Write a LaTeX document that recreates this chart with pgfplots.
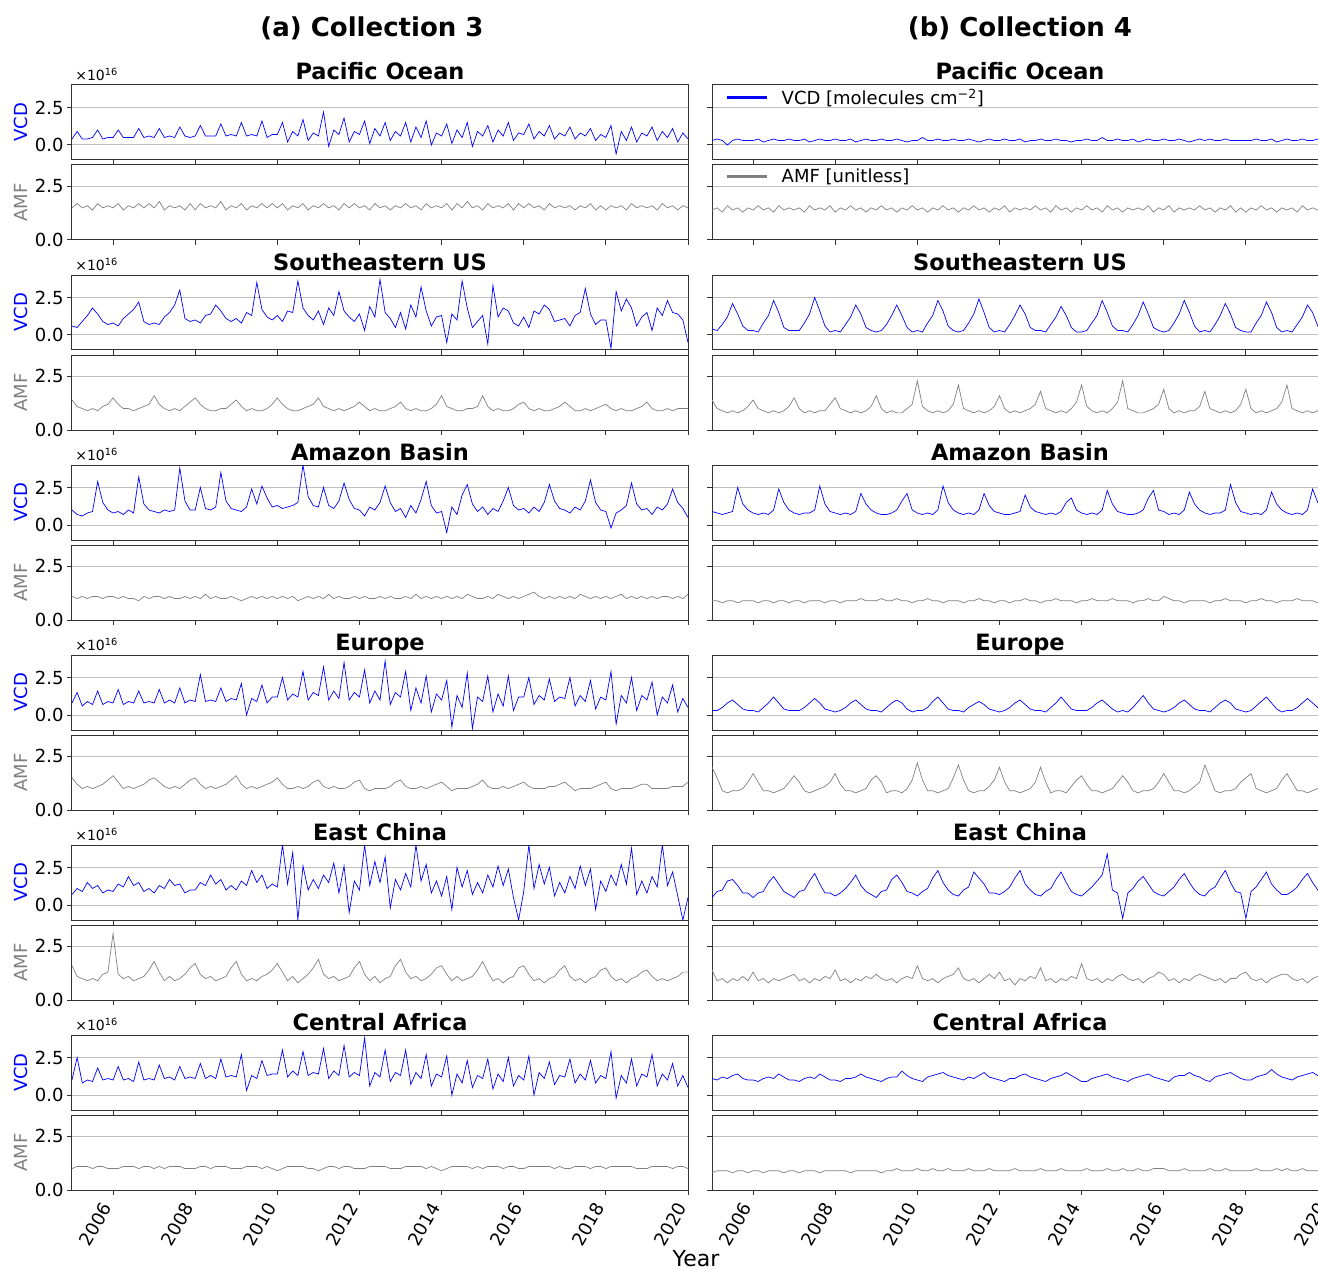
\documentclass[border=0pt]{standalone}
\usepackage{fontspec}
\setmainfont{DejaVu Sans}
\usepackage{pgfplots}
\pgfplotsset{compat=1.18}
\pgfplotsset{
  table/ts/.style={header=false,row sep=\\,x expr=2005+\coordindex*0.125,y index=0},
  panel/.style={scale only axis,width=616pt,height=75pt,anchor=north west,
    xmin=2005,xmax=2020,xtick={2006,2008,...,2020},xticklabels={},
    ytick={0,2.5},yticklabels={},
    tick align=outside,tick pos=left,major tick length=5pt,
    every tick/.style={black!80,line width=1pt},
    axis line style={black!80,line width=1pt},
    ymajorgrids,grid style={black!25,line width=1pt},
    tick label style={font=\fontsize{18}{18}\selectfont},
    every axis title/.style={at={(0.5,1)},anchor=base,yshift=5pt,font=\bfseries\fontsize{22.5}{24}\selectfont},
    every axis y label/.style={at={(axis description cs:-0.0828,0.5)},rotate=90,anchor=center,font=\fontsize{18}{18}\selectfont},
  },
  vcd/.style={panel,ymin=-1,ymax=4},
  amf/.style={panel,ymin=0,ymax=3.5},
  L/.style={yticklabels={0.0,2.5}},
  vL/.style={vcd,L,ylabel={VCD},ylabel style={blue},
     extra description/.code={\node[anchor=south west,inner sep=0pt,font=\fontsize{14}{14}\selectfont] at (axis description cs:0.005,1.05){×10\textsuperscript{16}};}},
  aL/.style={amf,L,ylabel={AMF},ylabel style={gray}},
  bot/.style={xticklabels={2006,2008,2010,2012,2014,2016,2018,2020},
     xticklabel style={yshift=-13pt,rotate=60,anchor=south east,inner sep=0pt}},
  vl/.style={blue,line width=0.7pt,forget plot},
  al/.style={gray,line width=0.7pt,forget plot},
  leg/.style={legend style={at={(0,1)},anchor=north west,draw=none,fill=none,font=\fontsize{18}{18}\selectfont,xshift=10pt,yshift=0pt},
    legend image code/.code={\draw[##1,line width=2.6pt](0pt,0pt)--(40pt,0pt);\path(53pt,0pt);}},
}
\begin{document}
\begin{tikzpicture}
\useasboundingbox (0,0) rectangle (1318pt,-1271pt);
\node[font=\bfseries\fontsize{26}{28}\selectfont] at (372pt,-28pt) {(a) Collection 3};
\node[font=\bfseries\fontsize{26}{28}\selectfont] at (1020pt,-28pt) {(b) Collection 4};
\node[font=\fontsize{22}{24}\selectfont] at (696pt,-1259pt) {Year};

% ---------------- Pacific Ocean ----------------
\begin{axis}[vL,at={(72pt,-85pt)},title={Pacific Ocean}]
\addplot[vl] table[ts]{
0.4\\0.9\\0.4\\0.4\\0.5\\1.0\\0.4\\0.5\\
0.5\\1.0\\0.5\\0.5\\0.5\\1.1\\0.5\\0.6\\
0.5\\1.1\\0.5\\0.6\\0.5\\1.2\\0.6\\0.5\\
0.6\\1.3\\0.6\\0.6\\0.6\\1.4\\0.6\\0.7\\
0.6\\1.5\\0.6\\0.7\\0.6\\1.6\\0.5\\0.7\\
0.7\\1.5\\0.2\\0.9\\0.6\\1.7\\0.3\\0.8\\
0.6\\2.2\\-0.1\\1.0\\0.7\\1.8\\0.2\\0.9\\
0.7\\1.6\\0.1\\1.1\\0.6\\1.5\\0.3\\0.9\\
0.6\\1.5\\0.2\\1.2\\0.5\\1.6\\0.0\\0.8\\
0.6\\1.4\\0.1\\1.0\\0.5\\1.5\\-0.1\\0.9\\
0.6\\1.3\\0.2\\1.0\\0.6\\1.5\\0.3\\0.8\\
0.7\\1.4\\0.4\\0.9\\0.6\\1.3\\0.4\\0.8\\
0.6\\1.2\\0.4\\0.8\\0.6\\1.1\\0.3\\0.7\\
0.5\\1.3\\-0.6\\0.9\\0.3\\1.2\\0.2\\0.8\\
0.6\\1.2\\0.3\\0.9\\0.5\\1.1\\0.2\\0.8\\
0.4\\};
\end{axis}
\begin{axis}[aL,at={(72pt,-165pt)}]
\addplot[al] table[ts]{
1.5\\1.7\\1.5\\1.6\\1.4\\1.7\\1.5\\1.6\\
1.5\\1.7\\1.4\\1.6\\1.5\\1.7\\1.5\\1.7\\
1.5\\1.8\\1.4\\1.6\\1.5\\1.6\\1.4\\1.7\\
1.4\\1.7\\1.5\\1.6\\1.5\\1.8\\1.4\\1.6\\
1.5\\1.7\\1.4\\1.6\\1.5\\1.7\\1.5\\1.7\\
1.5\\1.7\\1.4\\1.6\\1.5\\1.7\\1.4\\1.6\\
1.5\\1.7\\1.5\\1.6\\1.4\\1.7\\1.5\\1.7\\
1.5\\1.6\\1.4\\1.7\\1.5\\1.6\\1.4\\1.6\\
1.5\\1.7\\1.5\\1.6\\1.4\\1.7\\1.5\\1.6\\
1.5\\1.7\\1.4\\1.7\\1.5\\1.8\\1.5\\1.6\\
1.4\\1.7\\1.5\\1.6\\1.5\\1.7\\1.4\\1.7\\
1.5\\1.7\\1.5\\1.6\\1.4\\1.7\\1.5\\1.6\\
1.5\\1.6\\1.4\\1.6\\1.5\\1.7\\1.4\\1.6\\
1.4\\1.6\\1.5\\1.6\\1.4\\1.7\\1.5\\1.6\\
1.5\\1.6\\1.4\\1.7\\1.5\\1.6\\1.4\\1.6\\
1.5\\};
\end{axis}
\begin{axis}[vcd,leg,at={(712pt,-85pt)},title={Pacific Ocean}]
\addlegendimage{blue}
\addlegendentry{VCD [molecules cm\textsuperscript{−2}]}
\addplot[vl] table[ts]{
0.3\\0.4\\0.3\\0.0\\0.3\\0.4\\0.3\\0.3\\
0.3\\0.4\\0.2\\0.3\\0.4\\0.3\\0.3\\0.4\\
0.3\\0.3\\0.4\\0.2\\0.3\\0.4\\0.3\\0.3\\
0.4\\0.3\\0.3\\0.4\\0.2\\0.3\\0.4\\0.3\\
0.3\\0.4\\0.3\\0.3\\0.4\\0.3\\0.2\\0.3\\
0.3\\0.5\\0.3\\0.3\\0.4\\0.3\\0.3\\0.4\\
0.3\\0.3\\0.4\\0.3\\0.2\\0.3\\0.4\\0.3\\
0.3\\0.4\\0.3\\0.3\\0.4\\0.2\\0.3\\0.3\\
0.4\\0.3\\0.3\\0.4\\0.3\\0.3\\0.2\\0.3\\
0.3\\0.4\\0.3\\0.3\\0.5\\0.3\\0.3\\0.4\\
0.3\\0.3\\0.4\\0.2\\0.3\\0.4\\0.3\\0.3\\
0.4\\0.3\\0.3\\0.4\\0.3\\0.2\\0.3\\0.4\\
0.3\\0.4\\0.3\\0.3\\0.4\\0.3\\0.3\\0.3\\
0.3\\0.3\\0.4\\0.3\\0.3\\0.4\\0.2\\0.3\\
0.4\\0.3\\0.3\\0.4\\0.3\\0.3\\0.4\\0.3\\
0.3\\};
\end{axis}
\begin{axis}[amf,leg,at={(712pt,-165pt)}]
\addlegendimage{gray}
\addlegendentry{AMF [unitless]}
\addplot[al] table[ts]{
1.4\\1.5\\1.3\\1.6\\1.4\\1.5\\1.3\\1.5\\
1.4\\1.6\\1.4\\1.5\\1.3\\1.6\\1.4\\1.5\\
1.4\\1.5\\1.3\\1.6\\1.4\\1.5\\1.4\\1.6\\
1.3\\1.5\\1.4\\1.6\\1.4\\1.5\\1.3\\1.5\\
1.4\\1.6\\1.4\\1.5\\1.3\\1.5\\1.4\\1.6\\
1.4\\1.5\\1.3\\1.5\\1.4\\1.6\\1.4\\1.5\\
1.3\\1.5\\1.4\\1.6\\1.4\\1.5\\1.3\\1.5\\
1.4\\1.6\\1.3\\1.5\\1.4\\1.5\\1.4\\1.6\\
1.4\\1.5\\1.3\\1.6\\1.4\\1.5\\1.3\\1.5\\
1.4\\1.6\\1.4\\1.5\\1.3\\1.6\\1.4\\1.5\\
1.3\\1.5\\1.4\\1.5\\1.4\\1.6\\1.3\\1.5\\
1.4\\1.6\\1.3\\1.5\\1.4\\1.5\\1.4\\1.6\\
1.4\\1.5\\1.3\\1.5\\1.4\\1.6\\1.3\\1.5\\
1.3\\1.5\\1.4\\1.6\\1.4\\1.5\\1.3\\1.5\\
1.4\\1.5\\1.3\\1.6\\1.4\\1.5\\1.4\\1.5\\
1.4\\};
\end{axis}

% ---------------- Southeastern US ----------------
\begin{axis}[vL,at={(72pt,-275pt)},title={Southeastern US}]
\addplot[vl] table[ts]{
0.6\\0.5\\0.9\\1.3\\1.8\\1.4\\0.9\\0.7\\
0.8\\0.6\\1.1\\1.4\\1.7\\2.2\\0.9\\0.7\\
0.8\\0.7\\1.2\\1.5\\2.0\\3.0\\1.1\\0.9\\
1.0\\0.8\\1.3\\1.4\\2.0\\1.6\\1.1\\0.9\\
1.1\\0.8\\1.5\\1.3\\3.5\\1.7\\1.2\\1.0\\
1.3\\0.9\\1.6\\1.5\\3.6\\1.8\\1.3\\1.0\\
1.6\\0.7\\1.8\\1.3\\2.9\\1.6\\1.2\\0.9\\
1.4\\0.3\\1.9\\1.2\\3.7\\1.5\\1.1\\0.5\\
1.5\\0.4\\2.0\\1.2\\3.2\\1.6\\0.6\\1.2\\
1.3\\-0.5\\1.4\\1.0\\3.6\\1.8\\0.5\\0.9\\
1.3\\-0.6\\3.3\\1.2\\1.8\\1.6\\0.8\\0.6\\
1.2\\0.5\\1.6\\1.4\\2.0\\1.7\\0.9\\1.0\\
1.1\\0.6\\1.3\\1.5\\3.1\\1.4\\0.7\\1.0\\
1.0\\-0.9\\2.9\\1.6\\2.4\\1.8\\0.6\\1.2\\
1.5\\0.3\\1.8\\1.3\\2.3\\1.5\\1.4\\1.0\\
-0.5\\};
\end{axis}
\begin{axis}[aL,at={(72pt,-355pt)}]
\addplot[al] table[ts]{
1.4\\1.1\\1.0\\0.9\\1.0\\0.9\\1.1\\1.2\\
1.5\\1.2\\1.0\\1.0\\0.9\\1.0\\1.1\\1.2\\
1.6\\1.2\\1.0\\0.9\\1.0\\0.9\\1.1\\1.3\\
1.5\\1.2\\1.0\\0.9\\0.9\\1.0\\1.0\\1.2\\
1.4\\1.1\\0.9\\1.0\\0.9\\0.9\\1.0\\1.2\\
1.5\\1.2\\1.0\\0.9\\0.9\\1.0\\1.1\\1.2\\
1.5\\1.1\\1.0\\0.9\\1.0\\0.9\\1.0\\1.1\\
1.3\\1.1\\0.9\\1.0\\0.9\\0.9\\1.0\\1.1\\
1.3\\1.0\\0.9\\1.0\\0.9\\0.9\\1.0\\1.2\\
1.6\\1.1\\1.0\\0.9\\0.9\\1.0\\1.0\\1.1\\
1.6\\1.1\\0.9\\1.0\\0.9\\0.9\\1.0\\1.2\\
1.3\\1.0\\0.9\\1.0\\0.9\\0.9\\1.0\\1.1\\
1.3\\1.1\\0.9\\0.9\\1.0\\0.9\\1.0\\1.1\\
1.2\\1.0\\0.9\\1.0\\0.9\\0.9\\1.0\\1.1\\
1.3\\1.0\\0.9\\0.9\\1.0\\0.9\\1.0\\1.0\\
1.0\\};
\end{axis}
\begin{axis}[vcd,at={(712pt,-275pt)},title={Southeastern US}]
\addplot[vl] table[ts]{
0.4\\0.3\\0.7\\1.2\\2.1\\1.4\\0.6\\0.3\\
0.3\\0.2\\0.8\\1.3\\2.3\\1.5\\0.5\\0.3\\
0.3\\0.3\\0.8\\1.4\\2.5\\1.6\\0.6\\0.2\\
0.3\\0.2\\0.7\\1.2\\2.0\\1.4\\0.5\\0.3\\
0.2\\0.3\\0.7\\1.3\\2.0\\1.3\\0.5\\0.2\\
0.3\\0.2\\0.8\\1.3\\2.3\\1.6\\0.6\\0.3\\
0.2\\0.3\\0.8\\1.4\\2.4\\1.5\\0.5\\0.2\\
0.3\\0.2\\0.7\\1.3\\2.0\\1.4\\0.5\\0.3\\
0.3\\0.2\\0.7\\1.2\\1.9\\1.3\\0.5\\0.2\\
0.2\\0.3\\0.8\\1.3\\2.3\\1.5\\0.6\\0.3\\
0.3\\0.2\\0.7\\1.3\\2.2\\1.4\\0.5\\0.3\\
0.2\\0.3\\0.8\\1.4\\2.3\\1.5\\0.6\\0.2\\
0.3\\0.2\\0.7\\1.3\\2.1\\1.4\\0.5\\0.3\\
0.2\\0.2\\0.8\\1.3\\2.2\\1.5\\0.5\\0.2\\
0.3\\0.2\\0.7\\1.2\\2.0\\1.5\\0.6\\0.3\\
0.3\\};
\end{axis}
\begin{axis}[amf,at={(712pt,-355pt)}]
\addplot[al] table[ts]{
1.4\\1.0\\0.9\\0.8\\0.9\\0.8\\0.9\\1.1\\
1.4\\1.0\\0.9\\0.8\\0.9\\0.8\\0.9\\1.1\\
1.5\\1.0\\0.8\\0.9\\0.8\\0.9\\0.9\\1.2\\
1.5\\1.0\\0.9\\0.8\\0.9\\0.8\\0.9\\1.1\\
1.6\\1.0\\0.8\\0.9\\0.8\\0.8\\1.0\\1.2\\
2.3\\1.1\\0.9\\0.8\\0.9\\0.8\\0.9\\1.2\\
2.1\\1.0\\0.9\\0.8\\0.9\\0.8\\0.9\\1.1\\
1.6\\1.0\\0.8\\0.9\\0.8\\0.9\\1.0\\1.2\\
1.8\\1.0\\0.9\\0.8\\0.9\\0.8\\1.0\\1.3\\
2.1\\1.1\\0.9\\0.8\\0.9\\0.8\\1.0\\1.3\\
2.3\\1.0\\0.9\\0.8\\0.8\\0.9\\1.0\\1.2\\
1.9\\1.0\\0.8\\0.9\\0.8\\0.9\\0.9\\1.1\\
1.8\\1.0\\0.9\\0.8\\0.9\\0.8\\0.9\\1.2\\
1.9\\1.0\\0.8\\0.9\\0.8\\0.9\\1.0\\1.3\\
2.1\\1.0\\0.9\\0.8\\0.9\\0.8\\0.9\\1.0\\
1.0\\};
\end{axis}

% ---------------- Amazon Basin ----------------
\begin{axis}[vL,at={(72pt,-465pt)},title={Amazon Basin}]
\addplot[vl] table[ts]{
1.0\\0.7\\0.6\\0.8\\0.9\\2.9\\1.5\\1.0\\
0.8\\0.9\\0.7\\1.0\\0.8\\3.2\\1.4\\1.0\\
0.9\\0.8\\1.0\\0.9\\1.0\\3.8\\1.6\\1.0\\
1.0\\2.5\\1.1\\1.0\\1.2\\3.5\\1.6\\1.1\\
1.0\\0.9\\1.2\\2.4\\1.4\\2.6\\1.8\\1.2\\
1.3\\1.1\\1.2\\1.3\\1.5\\4.0\\1.9\\1.3\\
1.2\\2.5\\1.3\\1.1\\1.6\\2.8\\1.7\\1.1\\
1.0\\0.6\\1.2\\1.0\\1.5\\2.6\\1.5\\0.9\\
1.1\\0.5\\1.3\\0.8\\1.7\\2.9\\1.3\\0.8\\
0.9\\-0.5\\1.2\\0.7\\2.0\\2.7\\1.4\\0.9\\
1.2\\0.7\\1.1\\0.9\\1.6\\2.5\\1.3\\1.0\\
1.1\\0.8\\1.2\\0.9\\1.5\\2.7\\1.6\\1.1\\
1.0\\0.8\\1.2\\1.0\\1.6\\3.0\\1.5\\1.0\\
0.9\\-0.2\\0.8\\1.0\\1.3\\2.8\\1.4\\1.0\\
1.1\\0.7\\1.2\\1.0\\1.4\\2.4\\1.5\\1.1\\
0.5\\};
\end{axis}
\begin{axis}[aL,at={(72pt,-545pt)}]
\addplot[al] table[ts]{
1.1\\1.0\\1.1\\1.0\\1.1\\1.1\\1.0\\1.1\\
1.1\\1.0\\1.1\\1.0\\1.0\\0.9\\1.1\\1.0\\
1.1\\1.1\\1.0\\1.1\\1.0\\1.0\\1.1\\1.0\\
1.1\\1.0\\1.2\\1.0\\1.1\\1.0\\1.0\\1.1\\
1.0\\0.9\\1.0\\1.1\\1.0\\1.1\\1.0\\1.1\\
1.0\\1.1\\1.0\\1.1\\0.9\\1.0\\1.1\\1.0\\
1.1\\1.0\\1.2\\1.0\\1.1\\1.0\\1.0\\1.1\\
1.0\\1.1\\1.0\\1.0\\1.1\\1.0\\1.1\\1.0\\
1.0\\1.1\\1.0\\1.2\\1.0\\1.1\\1.0\\1.1\\
1.0\\1.1\\1.0\\1.1\\1.0\\1.2\\1.1\\1.0\\
1.0\\1.1\\1.0\\1.2\\1.1\\1.0\\1.1\\1.0\\
1.1\\1.2\\1.3\\1.1\\1.0\\1.1\\1.0\\1.1\\
1.0\\1.1\\1.0\\1.2\\1.1\\1.0\\1.1\\1.0\\
1.1\\1.0\\1.1\\1.2\\1.0\\1.1\\1.0\\1.1\\
1.0\\1.1\\1.0\\1.1\\1.1\\1.0\\1.1\\1.0\\
1.2\\};
\end{axis}
\begin{axis}[vcd,at={(712pt,-465pt)},title={Amazon Basin}]
\addplot[vl] table[ts]{
0.9\\0.8\\0.7\\0.8\\0.9\\2.5\\1.4\\1.0\\
0.8\\0.7\\0.8\\0.7\\1.0\\2.4\\1.5\\1.0\\
0.8\\0.7\\0.8\\0.8\\1.0\\2.6\\1.4\\0.9\\
0.8\\0.7\\0.8\\0.7\\0.9\\2.1\\1.4\\1.0\\
0.8\\0.7\\0.7\\0.8\\1.0\\1.6\\2.1\\1.0\\
0.8\\0.7\\0.8\\0.7\\1.0\\2.6\\1.5\\1.0\\
0.8\\0.7\\0.8\\0.7\\1.0\\2.1\\1.3\\0.9\\
0.8\\0.7\\0.7\\0.8\\0.9\\2.0\\1.2\\0.9\\
0.8\\0.7\\0.8\\0.7\\0.9\\1.5\\1.8\\1.0\\
0.8\\0.7\\0.8\\0.7\\1.0\\2.3\\1.4\\0.9\\
0.8\\0.7\\0.7\\0.8\\1.0\\1.8\\2.3\\1.0\\
0.9\\0.7\\0.8\\0.7\\1.0\\2.2\\1.4\\1.0\\
0.8\\0.7\\0.8\\0.8\\1.0\\2.7\\1.5\\0.9\\
0.8\\0.7\\0.8\\0.7\\1.0\\2.2\\1.4\\1.0\\
0.8\\0.7\\0.8\\0.7\\1.0\\2.4\\1.5\\1.0\\
0.9\\};
\end{axis}
\begin{axis}[amf,at={(712pt,-545pt)}]
\addplot[al] table[ts]{
0.9\\0.9\\0.8\\0.9\\0.9\\0.8\\0.9\\0.9\\
0.9\\0.8\\0.9\\0.9\\0.8\\0.9\\0.9\\0.8\\
0.9\\0.9\\0.8\\0.9\\0.9\\0.9\\0.8\\0.9\\
0.9\\0.8\\0.9\\0.9\\0.9\\1.0\\0.9\\0.9\\
0.9\\1.0\\0.9\\0.9\\1.0\\0.9\\0.9\\0.8\\
0.9\\0.9\\1.0\\0.9\\0.9\\0.8\\0.9\\0.9\\
0.9\\0.8\\0.9\\0.9\\1.0\\0.9\\0.9\\0.8\\
0.9\\0.9\\0.8\\0.9\\0.9\\1.0\\0.9\\0.9\\
0.8\\0.9\\0.9\\1.0\\0.9\\0.9\\0.9\\0.8\\
0.9\\0.9\\1.0\\0.9\\0.9\\0.9\\1.0\\0.9\\
0.9\\0.9\\0.8\\0.9\\0.9\\1.0\\0.9\\0.9\\
1.1\\1.0\\0.9\\0.9\\0.8\\0.9\\0.9\\0.9\\
0.9\\0.8\\0.9\\0.9\\1.0\\0.9\\0.9\\0.9\\
0.8\\0.9\\0.9\\1.0\\0.9\\0.9\\0.8\\0.9\\
0.9\\0.9\\1.0\\0.9\\0.9\\0.9\\0.8\\0.9\\
0.9\\};
\end{axis}

% ---------------- Europe ----------------
\begin{axis}[vL,at={(72pt,-655pt)},title={Europe}]
\addplot[vl] table[ts]{
0.8\\1.5\\0.6\\0.9\\0.7\\1.6\\0.7\\0.9\\
0.8\\1.7\\0.7\\0.9\\0.8\\1.6\\0.8\\0.9\\
0.8\\1.7\\0.8\\1.0\\0.8\\1.8\\0.8\\1.0\\
0.9\\2.7\\0.9\\1.0\\0.9\\1.8\\0.9\\1.1\\
1.0\\2.1\\0.0\\1.1\\0.9\\2.0\\0.8\\1.2\\
1.2\\2.5\\1.0\\1.4\\1.2\\2.9\\1.0\\1.5\\
1.3\\3.2\\1.0\\1.6\\1.1\\3.5\\1.0\\1.5\\
1.2\\3.0\\0.8\\1.6\\1.0\\3.6\\0.7\\1.5\\
1.2\\2.9\\0.3\\1.8\\0.8\\2.6\\0.2\\1.4\\
1.0\\2.3\\-0.8\\1.3\\0.5\\2.8\\-0.9\\1.2\\
0.9\\2.6\\0.2\\1.4\\0.6\\2.6\\0.3\\1.2\\
1.2\\2.5\\0.7\\1.3\\1.0\\2.4\\0.9\\1.2\\
1.1\\2.5\\0.6\\1.3\\0.9\\2.3\\0.4\\1.2\\
1.0\\2.9\\-0.6\\1.3\\0.8\\2.5\\0.3\\1.3\\
1.0\\2.2\\0.0\\1.2\\0.8\\2.0\\0.2\\1.1\\
0.5\\};
\end{axis}
\begin{axis}[aL,at={(72pt,-735pt)}]
\addplot[al] table[ts]{
1.5\\1.2\\1.0\\1.1\\1.0\\1.1\\1.2\\1.4\\
1.6\\1.3\\1.0\\1.1\\1.0\\1.1\\1.2\\1.4\\
1.5\\1.3\\1.1\\1.0\\1.1\\1.0\\1.2\\1.4\\
1.5\\1.2\\1.0\\1.1\\1.0\\1.1\\1.2\\1.4\\
1.6\\1.2\\1.0\\1.1\\1.0\\1.1\\1.2\\1.3\\
1.5\\1.2\\1.0\\1.0\\1.1\\1.0\\1.1\\1.3\\
1.4\\1.1\\1.0\\1.1\\1.0\\1.0\\1.1\\1.3\\
1.4\\1.0\\0.9\\1.0\\1.0\\1.0\\1.1\\1.3\\
1.4\\1.1\\1.0\\1.0\\1.1\\1.0\\1.1\\1.2\\
1.3\\1.1\\0.9\\1.0\\1.0\\1.0\\1.1\\1.2\\
1.4\\1.1\\1.0\\1.0\\1.1\\1.0\\1.1\\1.2\\
1.3\\1.1\\1.0\\1.0\\1.0\\1.1\\1.1\\1.2\\
1.3\\1.1\\0.9\\1.0\\1.0\\1.0\\1.1\\1.2\\
1.3\\1.0\\0.9\\1.0\\1.0\\1.0\\1.1\\1.2\\
1.2\\1.0\\1.0\\1.0\\1.0\\1.1\\1.1\\1.1\\
1.3\\};
\end{axis}
\begin{axis}[vcd,at={(712pt,-655pt)},title={Europe}]
\addplot[vl] table[ts]{
0.3\\0.3\\0.5\\0.8\\1.0\\0.7\\0.4\\0.3\\
0.3\\0.2\\0.5\\0.8\\1.2\\0.8\\0.4\\0.3\\
0.3\\0.3\\0.5\\0.8\\1.1\\0.8\\0.4\\0.3\\
0.2\\0.3\\0.5\\0.8\\1.0\\0.7\\0.4\\0.3\\
0.3\\0.2\\0.5\\0.8\\1.0\\0.8\\0.4\\0.2\\
0.3\\0.3\\0.5\\0.9\\1.2\\0.8\\0.4\\0.3\\
0.3\\0.2\\0.5\\0.7\\0.9\\0.7\\0.4\\0.3\\
0.2\\0.3\\0.5\\0.8\\1.0\\0.7\\0.4\\0.3\\
0.3\\0.2\\0.5\\0.8\\1.2\\0.8\\0.4\\0.3\\
0.3\\0.3\\0.5\\0.8\\1.0\\0.7\\0.4\\0.2\\
0.3\\0.2\\0.5\\0.9\\1.3\\0.8\\0.4\\0.3\\
0.2\\0.3\\0.5\\0.8\\1.0\\0.7\\0.4\\0.3\\
0.3\\0.2\\0.5\\0.8\\1.0\\0.8\\0.4\\0.3\\
0.2\\0.3\\0.6\\0.9\\1.2\\0.8\\0.4\\0.2\\
0.3\\0.3\\0.5\\0.8\\1.1\\0.8\\0.5\\0.4\\
0.9\\};
\end{axis}
\begin{axis}[amf,at={(712pt,-735pt)}]
\addplot[al] table[ts]{
2.0\\1.5\\0.9\\0.8\\0.9\\0.9\\1.0\\1.3\\
1.7\\1.3\\0.9\\0.9\\0.8\\0.9\\1.0\\1.3\\
1.6\\1.3\\0.9\\0.8\\0.9\\1.0\\1.1\\1.3\\
1.7\\1.2\\0.9\\0.9\\0.8\\0.9\\1.0\\1.4\\
1.6\\1.3\\0.8\\0.9\\0.9\\0.8\\1.0\\1.4\\
2.2\\1.4\\0.9\\0.9\\0.8\\0.9\\1.0\\1.5\\
2.1\\1.4\\0.9\\0.8\\0.9\\0.9\\1.1\\1.4\\
2.0\\1.3\\0.9\\0.9\\0.8\\0.9\\1.0\\1.3\\
2.0\\1.3\\0.8\\0.9\\0.9\\0.8\\1.1\\1.4\\
1.6\\1.2\\0.9\\0.9\\0.8\\0.9\\1.0\\1.3\\
1.6\\1.3\\0.9\\0.8\\0.9\\0.9\\1.0\\1.3\\
1.7\\1.3\\0.9\\0.9\\0.8\\0.9\\1.1\\1.3\\
2.1\\1.5\\0.9\\0.8\\0.9\\0.9\\1.0\\1.3\\
1.5\\1.7\\1.0\\0.9\\0.8\\0.9\\1.0\\1.4\\
1.7\\1.3\\0.9\\0.9\\0.8\\0.9\\1.0\\1.3\\
1.5\\};
\end{axis}

% ---------------- East China ----------------
\begin{axis}[vL,at={(72pt,-845pt)},title={East China}]
\addplot[vl] table[ts]{
0.7\\1.1\\0.9\\1.5\\1.1\\1.3\\0.8\\1.0\\
0.9\\1.4\\1.2\\1.9\\1.3\\1.5\\0.9\\1.1\\
0.8\\1.3\\1.1\\1.7\\1.3\\1.4\\0.8\\1.0\\
1.0\\1.5\\1.3\\2.0\\1.4\\1.7\\1.0\\1.3\\
1.0\\1.6\\1.3\\2.3\\1.5\\2.0\\1.1\\1.4\\
1.2\\4.0\\1.4\\3.5\\-1.0\\2.6\\1.0\\1.7\\
1.1\\2.0\\1.5\\2.8\\0.8\\2.6\\-0.5\\1.6\\
1.0\\4.0\\1.3\\2.9\\1.5\\3.2\\-0.2\\1.7\\
1.0\\2.1\\1.2\\4.0\\1.6\\2.7\\0.8\\1.6\\
0.6\\1.9\\-0.3\\2.5\\1.2\\2.3\\0.7\\1.5\\
0.8\\2.0\\1.2\\2.6\\1.3\\2.4\\0.5\\-1.0\\
0.9\\4.0\\1.1\\2.7\\1.4\\2.5\\0.6\\1.5\\
0.8\\1.9\\1.1\\2.6\\1.3\\2.4\\-0.3\\1.6\\
0.9\\2.0\\1.3\\2.7\\1.4\\3.8\\0.7\\1.6\\
0.8\\1.9\\1.2\\4.0\\1.3\\2.2\\0.6\\-1.0\\
0.5\\};
\end{axis}
\begin{axis}[aL,at={(72pt,-925pt)}]
\addplot[al] table[ts]{
1.6\\1.1\\1.0\\0.9\\1.0\\0.9\\1.2\\1.3\\
3.1\\1.2\\1.0\\1.1\\0.9\\1.0\\1.1\\1.4\\
1.8\\1.3\\0.9\\1.1\\0.9\\1.0\\1.2\\1.5\\
1.7\\1.2\\1.0\\1.1\\0.9\\1.0\\1.1\\1.5\\
1.8\\1.2\\0.9\\1.0\\0.9\\1.1\\1.2\\1.4\\
1.7\\1.3\\0.9\\1.1\\0.8\\1.0\\1.2\\1.5\\
1.9\\1.2\\1.0\\1.1\\0.9\\1.0\\1.1\\1.5\\
1.8\\1.2\\0.9\\1.1\\0.8\\1.0\\1.1\\1.6\\
1.9\\1.3\\1.0\\1.1\\0.9\\1.0\\1.2\\1.5\\
1.6\\1.2\\0.9\\1.1\\0.9\\1.0\\1.1\\1.4\\
1.8\\1.3\\0.9\\1.0\\0.8\\1.0\\1.1\\1.5\\
1.6\\1.2\\0.9\\1.0\\0.8\\1.0\\1.1\\1.4\\
1.6\\1.1\\0.9\\1.0\\0.8\\1.0\\1.1\\1.4\\
1.5\\1.1\\0.9\\1.0\\0.8\\1.0\\1.1\\1.3\\
1.4\\1.1\\0.9\\1.0\\0.9\\1.0\\1.1\\1.3\\
1.3\\};
\end{axis}
\begin{axis}[vcd,at={(712pt,-845pt)},title={East China}]
\addplot[vl] table[ts]{
0.5\\0.9\\1.0\\1.6\\1.7\\1.3\\0.8\\0.8\\
0.5\\0.8\\0.9\\1.5\\1.9\\1.4\\0.9\\0.7\\
0.5\\0.9\\1.0\\1.6\\2.1\\1.4\\0.8\\0.8\\
0.6\\0.8\\1.1\\1.5\\2.0\\1.3\\0.9\\0.7\\
0.5\\0.9\\1.0\\1.7\\2.0\\1.5\\0.9\\0.8\\
0.6\\0.9\\1.1\\1.8\\2.3\\1.5\\1.0\\0.7\\
0.6\\1.0\\1.2\\2.2\\1.8\\1.4\\0.8\\0.8\\
0.7\\0.9\\1.2\\1.8\\2.3\\1.4\\1.0\\0.7\\
0.6\\0.9\\1.1\\1.7\\2.2\\1.5\\0.9\\0.7\\
0.6\\0.9\\1.2\\1.6\\2.0\\3.4\\1.0\\0.8\\
-0.9\\0.8\\1.1\\1.6\\1.9\\1.4\\0.9\\0.7\\
0.6\\0.9\\1.2\\1.7\\2.1\\1.5\\1.0\\0.7\\
0.6\\1.0\\1.2\\1.8\\2.3\\1.5\\0.9\\0.8\\
-0.9\\0.9\\1.2\\1.7\\2.2\\1.4\\1.0\\0.7\\
0.7\\0.9\\1.2\\1.7\\2.1\\1.5\\1.0\\0.8\\
0.8\\};
\end{axis}
\begin{axis}[amf,at={(712pt,-925pt)}]
\addplot[al] table[ts]{
1.4\\0.9\\1.0\\0.8\\1.0\\0.9\\1.1\\0.9\\
1.3\\0.9\\1.0\\0.8\\1.0\\0.9\\1.0\\1.1\\
1.2\\0.9\\1.0\\0.8\\1.0\\0.9\\1.1\\1.0\\
1.4\\0.9\\1.0\\0.8\\1.0\\0.9\\1.1\\1.0\\
1.2\\1.0\\0.9\\1.0\\0.8\\1.0\\1.1\\1.0\\
1.6\\1.0\\0.9\\1.0\\0.8\\1.0\\1.1\\1.2\\
1.5\\1.0\\0.9\\1.0\\0.8\\1.0\\1.2\\1.0\\
1.3\\0.9\\1.0\\0.7\\1.0\\0.9\\1.1\\1.0\\
1.5\\0.9\\1.0\\0.8\\1.0\\0.9\\1.1\\1.0\\
1.7\\1.0\\0.9\\1.0\\0.8\\1.0\\0.9\\1.1\\
1.2\\1.0\\0.9\\1.0\\0.8\\1.0\\1.1\\1.3\\
1.2\\0.9\\1.0\\0.8\\1.0\\0.9\\1.1\\1.2\\
1.1\\1.0\\0.9\\1.0\\0.8\\1.0\\1.0\\1.2\\
1.3\\1.0\\0.9\\1.0\\0.8\\1.0\\1.1\\1.2\\
1.2\\1.0\\0.9\\1.0\\0.8\\1.0\\1.1\\1.0\\
0.9\\};
\end{axis}

% ---------------- Central Africa ----------------
\begin{axis}[vL,at={(72pt,-1035pt)},title={Central Africa}]
\addplot[vl] table[ts]{
1.0\\2.5\\0.8\\1.0\\0.9\\1.8\\1.0\\1.1\\
1.0\\1.9\\1.0\\1.1\\0.9\\2.2\\1.0\\1.1\\
1.0\\2.0\\1.1\\1.2\\1.0\\1.9\\1.1\\1.2\\
1.1\\2.1\\1.1\\1.3\\1.1\\2.4\\1.2\\1.3\\
1.2\\2.7\\0.3\\1.3\\1.1\\2.3\\1.3\\1.4\\
1.4\\3.0\\1.2\\1.6\\1.3\\2.9\\1.3\\1.5\\
1.4\\3.1\\1.1\\1.6\\1.3\\3.3\\1.2\\1.5\\
1.3\\3.8\\0.6\\1.5\\1.2\\3.0\\0.9\\1.5\\
1.3\\3.0\\0.7\\1.5\\1.1\\2.7\\0.6\\1.4\\
1.2\\2.6\\0.0\\1.4\\0.8\\2.3\\0.5\\1.3\\
1.1\\2.4\\0.4\\1.4\\0.9\\2.5\\0.6\\1.3\\
1.0\\2.6\\0.0\\1.5\\1.1\\2.2\\0.7\\1.3\\
1.2\\2.4\\0.8\\1.4\\1.0\\2.3\\0.8\\1.3\\
1.1\\2.9\\-0.2\\1.3\\0.8\\2.4\\0.6\\1.4\\
1.2\\2.7\\0.6\\1.4\\1.0\\2.1\\0.6\\1.3\\
0.5\\};
\end{axis}
\begin{axis}[aL,bot,at={(72pt,-1115pt)}]
\addplot[al] table[ts]{
1.0\\1.1\\1.1\\1.1\\1.0\\1.1\\1.1\\1.0\\
1.0\\1.0\\1.1\\1.1\\1.1\\1.0\\1.1\\1.1\\
1.0\\1.1\\1.0\\1.1\\1.1\\1.1\\1.0\\1.0\\
1.0\\1.1\\1.1\\1.0\\1.1\\1.1\\1.1\\1.0\\
1.0\\1.0\\1.1\\1.1\\1.1\\1.0\\1.1\\1.0\\
0.9\\1.0\\1.1\\1.1\\1.1\\1.1\\1.0\\1.0\\
0.9\\1.0\\1.1\\1.1\\1.0\\1.1\\1.1\\1.0\\
1.0\\1.0\\1.1\\1.1\\1.1\\1.1\\1.0\\1.0\\
1.0\\1.1\\1.1\\1.1\\1.1\\1.0\\1.1\\1.0\\
0.9\\1.0\\1.1\\1.1\\1.1\\1.1\\1.0\\1.1\\
1.0\\1.1\\1.1\\1.1\\1.0\\1.1\\1.1\\1.0\\
1.0\\1.1\\1.1\\1.1\\1.1\\1.1\\1.0\\1.1\\
1.0\\1.0\\1.1\\1.1\\1.1\\1.0\\1.1\\1.1\\
1.0\\1.1\\1.1\\1.1\\1.1\\1.1\\1.0\\1.0\\
1.0\\1.1\\1.1\\1.1\\1.1\\1.0\\1.1\\1.1\\
1.0\\};
\end{axis}
\begin{axis}[vcd,at={(712pt,-1035pt)},title={Central Africa}]
\addplot[vl] table[ts]{
1.1\\1.0\\1.2\\1.1\\1.3\\1.4\\1.1\\1.0\\
1.0\\0.9\\1.1\\1.2\\1.1\\1.4\\1.2\\1.0\\
1.0\\0.9\\1.1\\1.2\\1.1\\1.4\\1.2\\1.0\\
1.0\\0.9\\1.1\\1.1\\1.2\\1.4\\1.2\\1.1\\
1.0\\0.9\\1.1\\1.2\\1.2\\1.6\\1.3\\1.1\\
1.0\\0.9\\1.2\\1.3\\1.4\\1.5\\1.3\\1.2\\
1.1\\1.0\\1.2\\1.1\\1.3\\1.5\\1.2\\1.1\\
1.0\\0.9\\1.1\\1.1\\1.3\\1.4\\1.2\\1.1\\
1.0\\0.9\\1.1\\1.2\\1.3\\1.5\\1.3\\1.1\\
0.9\\0.9\\1.1\\1.2\\1.3\\1.4\\1.2\\1.1\\
1.0\\0.9\\1.1\\1.2\\1.3\\1.4\\1.2\\1.1\\
1.0\\0.9\\1.2\\1.3\\1.3\\1.5\\1.3\\1.2\\
1.0\\0.9\\1.2\\1.3\\1.4\\1.5\\1.3\\1.1\\
1.0\\1.0\\1.2\\1.3\\1.4\\1.7\\1.4\\1.2\\
1.1\\1.0\\1.2\\1.3\\1.4\\1.5\\1.3\\1.2\\
1.3\\};
\end{axis}
\begin{axis}[amf,bot,at={(712pt,-1115pt)}]
\addplot[al] table[ts]{
0.8\\0.9\\0.9\\0.9\\0.8\\0.9\\0.9\\0.8\\
0.9\\0.9\\0.8\\0.9\\0.9\\0.9\\0.8\\0.9\\
0.9\\0.8\\0.9\\0.9\\0.9\\0.8\\0.9\\0.9\\
0.9\\0.9\\0.9\\0.8\\0.9\\0.9\\0.9\\0.9\\
0.9\\0.8\\0.9\\0.9\\1.0\\0.9\\0.9\\0.9\\
1.0\\0.9\\0.9\\1.0\\0.9\\0.9\\1.0\\0.9\\
0.9\\0.9\\1.0\\0.9\\0.9\\0.9\\1.0\\0.9\\
0.9\\0.9\\0.9\\1.0\\0.9\\0.9\\0.9\\0.9\\
1.0\\0.9\\0.9\\0.9\\1.0\\0.9\\0.9\\0.9\\
0.9\\1.0\\0.9\\0.9\\0.9\\1.0\\0.9\\0.9\\
1.0\\0.9\\0.9\\1.0\\0.9\\0.9\\1.0\\1.0\\
1.0\\0.9\\0.9\\0.9\\1.0\\0.9\\0.9\\0.9\\
0.9\\1.0\\0.9\\0.9\\1.0\\0.9\\0.9\\0.9\\
0.9\\0.9\\1.0\\0.9\\0.9\\0.9\\1.0\\0.9\\
1.0\\0.9\\0.9\\1.0\\0.9\\0.9\\0.9\\0.9\\
0.9\\};
\end{axis}
\end{tikzpicture}
\end{document}
